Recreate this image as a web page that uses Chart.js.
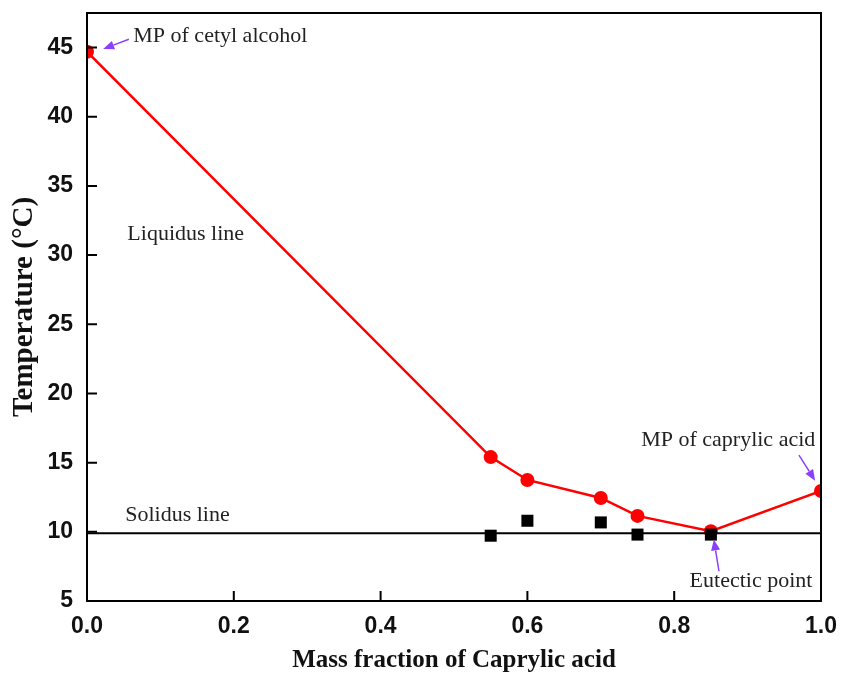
<!DOCTYPE html>
<html>
<head>
<meta charset="utf-8">
<script src="https://cdn.jsdelivr.net/npm/chart.js@4/dist/chart.umd.min.js"></script>
<style>
  html, body { margin: 0; padding: 0; background: #fff; }
  #wrap { width: 843px; height: 673px; position: relative; }
</style>
</head>
<body>
<div id="wrap"><canvas id="phaseChart"></canvas></div>
<script>
// Liquidus (red circles)
const liquidusX = [0, 0.55, 0.6, 0.7, 0.75, 0.85, 1.0];
const liquidusT = [44.7, 15.4, 13.75, 12.45, 11.15, 10.05, 12.95];

// Solidus (black squares)
const solidusX = [0.55, 0.6, 0.7, 0.75, 0.85];
const solidusT = [9.72, 10.8, 10.68, 9.8, 9.8];

// Solidus line
const solidusLineX = [0, 1.0];
const solidusLineT = [9.9, 9.9];

const xTicks = [0, 0.2, 0.4, 0.6, 0.8, 1.0];
const yTicks = [5, 10, 15, 20, 25, 30, 35, 40, 45];

// Annotations (data coordinates)
const noteText = ['MP of cetyl alcohol', 'Liquidus line', 'Solidus line', 'MP of caprylic acid', 'Eutectic point'];
const noteX = [0.063, 0.055, 0.052, 0.755, 0.821];
const noteT = [45.85, 31.5, 11.2, 16.6, 6.4];

// Arrows: tail -> head
const arrowFromX = [0.057, 0.970, 0.861];
const arrowFromT = [45.6, 15.55, 7.15];
const arrowToX = [0.022, 0.992, 0.854];
const arrowToT = [44.9, 13.7, 9.45];

const toPts = (xs, ys) => xs.map((x, i) => ({ x: x, y: ys[i] }));

const frameAndNotes = {
    id: 'frameAndNotes',
    afterDatasetsDraw(chart) {
        const ctx = chart.ctx;
        const a = chart.chartArea;
        const xs = chart.scales.x, ys = chart.scales.y;
        ctx.save();
        // frame
        ctx.strokeStyle = '#000';
        ctx.lineWidth = 2;
        ctx.strokeRect(a.left, a.top, a.right - a.left, a.bottom - a.top);
        // inward ticks
        ctx.beginPath();
        xTicks.forEach(v => {
            const px = xs.getPixelForValue(v);
            ctx.moveTo(px, a.bottom);
            ctx.lineTo(px, a.bottom - 10);
        });
        yTicks.forEach(v => {
            const py = ys.getPixelForValue(v);
            ctx.moveTo(a.left, py);
            ctx.lineTo(a.left + 10, py);
        });
        ctx.stroke();

        // notes
        ctx.fillStyle = '#222';
        ctx.font = '22px "Liberation Serif", "Times New Roman", serif';
        ctx.textBaseline = 'middle';
        ctx.textAlign = 'left';
        noteText.forEach((t, i) => {
            ctx.fillText(t, xs.getPixelForValue(noteX[i]), ys.getPixelForValue(noteT[i]));
        });

        // arrows
        ctx.strokeStyle = '#8a3ffc';
        ctx.fillStyle = '#8a3ffc';
        ctx.lineWidth = 1.5;
        arrowFromX.forEach((fx, i) => {
            const x1 = xs.getPixelForValue(fx), y1 = ys.getPixelForValue(arrowFromT[i]);
            const x2 = xs.getPixelForValue(arrowToX[i]), y2 = ys.getPixelForValue(arrowToT[i]);
            const ang = Math.atan2(y2 - y1, x2 - x1);
            const len = 11, w = 4.5;
            const bx = x2 - len * Math.cos(ang), by = y2 - len * Math.sin(ang);
            ctx.beginPath();
            ctx.moveTo(x1, y1);
            ctx.lineTo(bx, by);
            ctx.stroke();
            ctx.beginPath();
            ctx.moveTo(x2, y2);
            ctx.lineTo(bx + w * Math.sin(ang), by - w * Math.cos(ang));
            ctx.lineTo(bx - w * Math.sin(ang), by + w * Math.cos(ang));
            ctx.closePath();
            ctx.fill();
        });
        ctx.restore();
    }
};

const ctx = document.getElementById('phaseChart').getContext('2d');
new Chart(ctx, {
    type: 'scatter',
    data: {
        datasets: [
            {
                label: 'Solidus line',
                data: toPts(solidusLineX, solidusLineT),
                showLine: true,
                borderColor: '#000',
                borderWidth: 2,
                pointRadius: 0
            },
            {
                label: 'Solidus',
                data: toPts(solidusX, solidusT),
                showLine: false,
                pointStyle: 'rect',
                pointRadius: 8.5,
                backgroundColor: '#000',
                borderColor: '#000',
                borderWidth: 0
            },
            {
                label: 'Liquidus',
                data: toPts(liquidusX, liquidusT),
                showLine: true,
                borderColor: '#ff0000',
                borderWidth: 2.5,
                pointRadius: 7,
                pointBackgroundColor: '#ff0000',
                pointBorderColor: '#ff0000',
                pointBorderWidth: 0
            }
        ]
    },
    plugins: [frameAndNotes],
    options: {
        responsive: true,
        maintainAspectRatio: false,
        animation: false,
        layout: { padding: { top: 13, right: 22, left: 0, bottom: 0 } },
        plugins: {
            legend: { display: false },
            tooltip: { enabled: false }
        },
        scales: {
            x: {
                type: 'linear',
                min: 0,
                max: 1,
                afterBuildTicks: s => { s.ticks = xTicks.map(v => ({ value: v })); },
                afterFit: s => { s.height = 72; s.paddingLeft = 0; s.paddingRight = 0; },
                grid: { display: false, drawTicks: false },
                border: { display: false },
                ticks: {
                    padding: 12,
                    color: '#111',
                    font: { family: '"Liberation Sans", Arial, sans-serif', size: 23, weight: 'bold' },
                    callback: v => v.toFixed(1)
                },
                title: {
                    display: true,
                    text: 'Mass fraction of Caprylic acid',
                    color: '#111',
                    font: { family: '"Liberation Serif", "Times New Roman", serif', size: 25, weight: 'bold', lineHeight: 1.0 },
                    padding: { top: 0, bottom: 0 }
                }
            },
            y: {
                type: 'linear',
                min: 5,
                max: 47.5,
                afterBuildTicks: s => { s.ticks = yTicks.map(v => ({ value: v })); },
                afterFit: s => { s.width = 87; s.paddingTop = 0; s.paddingBottom = 0; },
                grid: { display: false, drawTicks: false },
                border: { display: false },
                ticks: {
                    padding: 14,
                    color: '#111',
                    font: { family: '"Liberation Sans", Arial, sans-serif', size: 23, weight: 'bold' }
                },
                title: {
                    display: true,
                    text: 'Temperature (°C)',
                    color: '#111',
                    font: { family: '"Liberation Serif", "Times New Roman", serif', size: 29, weight: 'bold' },
                    padding: { top: 7, bottom: 0 }
                }
            }
        }
    }
});
</script>
</body>
</html>
